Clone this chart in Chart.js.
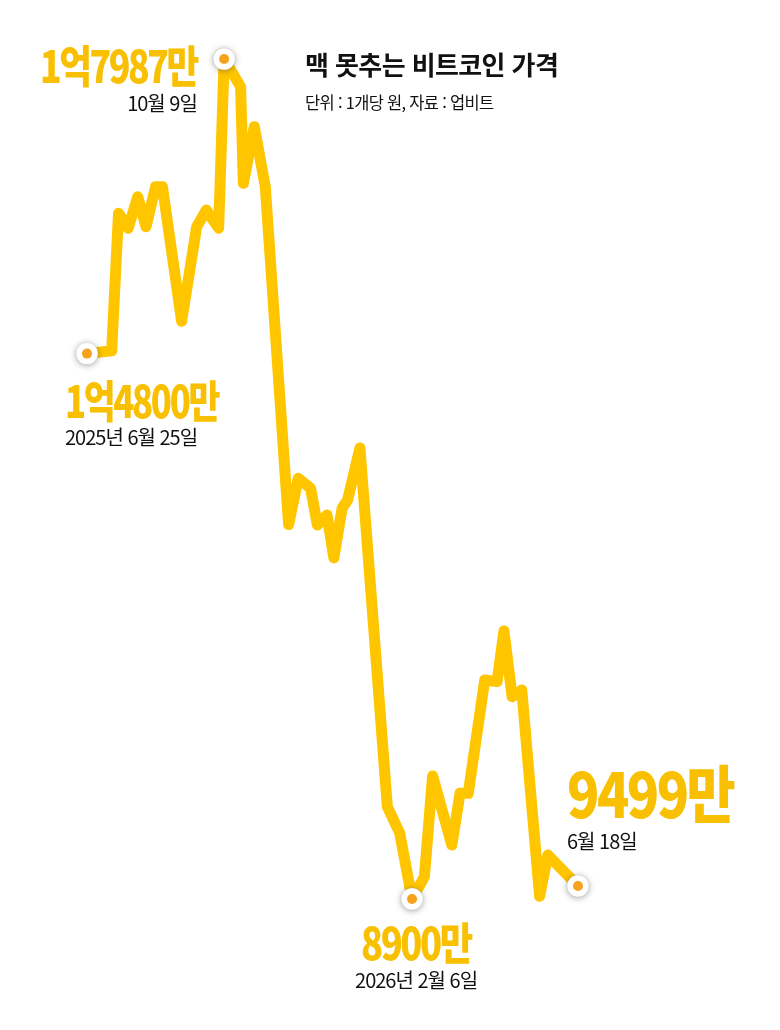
<!DOCTYPE html>
<html lang="ko">
<head>
<meta charset="utf-8">
<title>맥 못추는 비트코인 가격</title>
<script src="https://cdn.jsdelivr.net/npm/chart.js@4/dist/chart.umd.min.js"></script>
<style>
  html, body { margin: 0; padding: 0; background: #fff; overflow: hidden; }
  #wrap { position: relative; width: 780px; height: 1030px; font-family: "Noto Sans CJK KR", "Noto Sans", sans-serif; }
  #c { position: absolute; left: 0; top: 0; }
  .title { position: absolute; left: 305px; top: 51px; font-size: 26px; font-weight: 700; letter-spacing: -0.6px; color: #111; line-height: 1; }
  .sub { position: absolute; left: 305px; top: 94px; font-size: 16.5px; letter-spacing: -0.7px; color: #111; line-height: 1; }
  .val { position: absolute; color: #F8C000; font-weight: 900; line-height: 1; white-space: nowrap; letter-spacing: -3px; }
  .date { position: absolute; color: #111; line-height: 1; white-space: nowrap; letter-spacing: -1px; }
</style>
</head>
<body>
<div id="wrap">
  <canvas id="c" width="780" height="1030"></canvas>
  <div class="title">맥 못추는 비트코인 가격</div>
  <div class="sub">단위 : 1개당 원, 자료 : 업비트</div>
</div>
<script>
// 일자 (2025년 6월 25일 기준 경과일, 그림에서 추정)
const dayOffsets = [0, 18, 23, 30, 37, 43, 50, 55, 69, 80,
  87, 96, 100, 112, 114, 122, 130, 147, 154, 163,
  168, 175, 180, 186, 190, 199, 219, 228, 237, 246,
  252, 266, 272, 278, 290, 299, 304, 310, 317, 330,
  336, 358];
// 1개당 가격 (만원)
const prices = [14800, 14831, 16318, 16156, 16497, 16173, 16606, 16606, 15150, 16173,
  16353, 16156, 17987, 17687, 16642, 17255, 16606, 12950, 13451, 13343,
  12946, 13054, 12590, 13126, 13216, 13780, 9898, 9614, 8900, 9141,
  10230, 9484, 10043, 10043, 11269, 11251, 11800, 11088, 11161, 8930,
  9376, 9041];

const markerIdx = [0, 12, 28, 41];
const valueLabels = ['1억4800만', '1억7987만', '8900만', '9499만'];
const dateLabels = ['2025년 6월 25일', '10월 9일', '2026년 2월 6일', '6월 18일'];

const LINE = '#FFC600';

// label placement relative to each marker (pixels)
const labelLayout = [
  { align: 'left',   dx: -22, vy: 45,  dy: 83,  vs: 44, vw: 153, ds: 20 },
  { align: 'right',  dx: -27, vy: 5,   dy: 44,  vs: 44, vw: 157, ds: 20 },
  { align: 'center', dx: 4,   vy: 42,  dy: 81,  vs: 44, vw: 110, ds: 20 },
  { align: 'left',   dx: -11, vy: -95, dy: -45, vs: 62, vw: 166, ds: 20 }
];

const points = dayOffsets.map((d, i) => ({ x: d, y: prices[i] }));
const markers = markerIdx.map(i => points[i]);

const shadowPlugin = {
  id: 'markerShadow',
  beforeDatasetDraw(chart, args) {
    if (args.index === 1) {
      const ctx = chart.ctx;
      ctx.save();
      ctx.shadowColor = 'rgba(0,0,0,0.35)';
      ctx.shadowBlur = 6;
      ctx.shadowOffsetY = 1;
    }
  },
  afterDatasetDraw(chart, args) {
    if (args.index === 1) chart.ctx.restore();
  }
};

const labelPlugin = {
  id: 'htmlLabels',
  afterRender(chart) {
    if (chart._labelsDone) return;
    chart._labelsDone = true;
    const wrap = document.getElementById('wrap');
    const xs = chart.scales.x, ys = chart.scales.y;
    markers.forEach((p, k) => {
      const L = labelLayout[k];
      const px = xs.getPixelForValue(p.x) + L.dx;
      const py = ys.getPixelForValue(p.y);

      const v = document.createElement('div');
      v.className = 'val';
      v.textContent = valueLabels[k];
      v.style.fontSize = L.vs + 'px';
      wrap.appendChild(v);
      const sx = L.vw / v.offsetWidth;
      const w = v.offsetWidth * sx;
      let left = L.align === 'left' ? px : L.align === 'right' ? px - w : px - w / 2;
      v.style.left = left + 'px';
      v.style.top = (py + L.vy - v.offsetHeight / 2) + 'px';
      v.style.transformOrigin = 'left center';
      v.style.transform = 'scaleX(' + sx + ')';

      const d = document.createElement('div');
      d.className = 'date';
      d.textContent = dateLabels[k];
      d.style.fontSize = L.ds + 'px';
      wrap.appendChild(d);
      const dw = d.offsetWidth;
      left = L.align === 'left' ? px : L.align === 'right' ? px - dw : px - dw / 2;
      d.style.left = left + 'px';
      d.style.top = (py + L.dy - d.offsetHeight / 2) + 'px';
    });
  }
};

new Chart(document.getElementById('c'), {
  type: 'line',
  data: {
    datasets: [
      {
        data: points,
        borderColor: LINE,
        borderWidth: 11,
        borderJoinStyle: 'round',
        borderCapStyle: 'round',
        pointRadius: 0,
        tension: 0,
        clip: false,
        order: 3
      },
      {
        data: markers,
        showLine: false,
        pointRadius: 11,
        pointBackgroundColor: '#fff',
        pointBorderColor: 'rgba(0,0,0,0.08)',
        pointBorderWidth: 1,
        clip: false,
        order: 2
      },
      {
        data: markers,
        showLine: false,
        pointRadius: 5,
        pointBackgroundColor: '#F7A11C',
        pointBorderWidth: 0,
        clip: false,
        order: 1
      }
    ]
  },
  options: {
    responsive: false,
    animation: false,
    layout: { padding: 0, autoPadding: false },
    plugins: { legend: { display: false }, tooltip: { enabled: false } },
    scales: {
      x: { type: 'linear', display: false, min: -63.43, max: 505.29 },
      y: { type: 'linear', display: false, min: 7482.8, max: 18625.3 }
    }
  },
  plugins: [shadowPlugin, labelPlugin]
});
</script>
</body>
</html>
